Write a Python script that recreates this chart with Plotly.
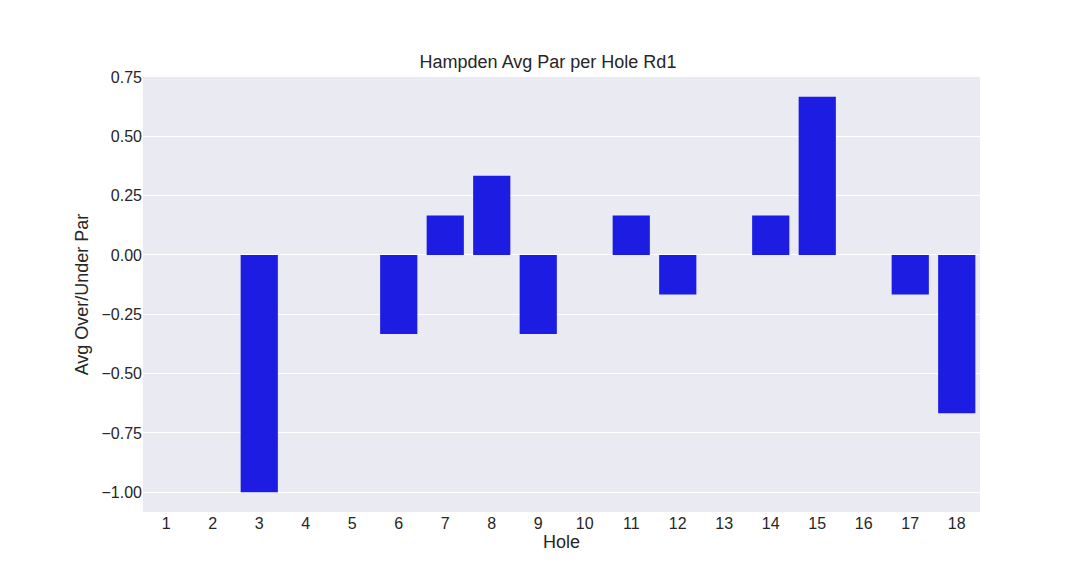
import plotly.graph_objects as go

holes = [str(i) for i in range(1, 19)]
avg = [0, 0, -1.0, 0, 0, -0.3333, 0.1667, 0.3333, -0.3333, 0, 0.1667, -0.1667, 0, 0.1667, 0.6667, 0, -0.1667, -0.6667]
yticks = [0.75, 0.5, 0.25, 0.0, -0.25, -0.5, -0.75, -1.0]
ytext = ["0.75", "0.50", "0.25", "0.00", "\u22120.25", "\u22120.50", "\u22120.75", "\u22121.00"]

fig = go.Figure(go.Bar(x=holes, y=avg, width=0.8, marker=dict(color="#1c1ce3", line=dict(width=0))))
fig.update_layout(
    width=1080, height=576,
    margin=dict(l=135, r=108, t=69, b=72),
    paper_bgcolor="white", plot_bgcolor="#eaeaf2",
    font=dict(family="Liberation Sans, Arial", size=16, color="#262626"),
    title=dict(text="Hampden Avg Par per Hole Rd1", x=0.5, xanchor="center", y=0.895, yanchor="bottom", font=dict(size=18)),
    showlegend=False,
)
fig.update_xaxes(title=dict(text="Hole", standoff=4, font=dict(size=18)), showgrid=False, ticks="", range=[-0.5, 17.5], type="category")
fig.update_yaxes(title=dict(text="Avg Over/Under Par", standoff=8, font=dict(size=18)), range=[-1.0833, 0.75],
                 tickvals=yticks, ticktext=ytext, gridcolor="white", gridwidth=1, zeroline=False, ticks="")
fig.write_html("out.html")
